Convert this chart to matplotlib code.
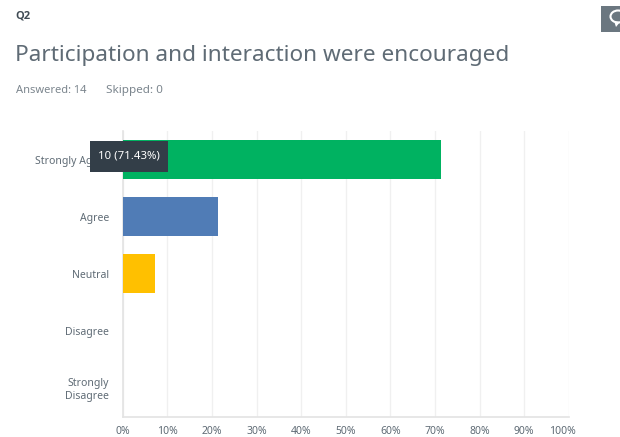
import matplotlib
matplotlib.use("Agg")
import matplotlib.pyplot as plt
from matplotlib.patches import Rectangle, Ellipse, Polygon
from matplotlib.transforms import ScaledTranslation

categories = ["Strongly Agree", "Agree", "Neutral", "Disagree", "Strongly\nDisagree"]
percents = [71.43, 21.43, 7.14, 0, 0]
bar_colors = ["#00b261", "#507cb6", "#ffc000", "#00b261", "#507cb6"]
x_ticks = [0, 10, 20, 30, 40, 50, 60, 70, 80, 90, 100]
x_tick_labels = [f"{t}%" for t in x_ticks]

question_id = "Q2"
title = "Participation and interaction were encouraged"
answered_text = "Answered: 14"
skipped_text = "Skipped: 0"
tooltip_text = "10 (71.43%)"

W, H = 620, 437

plt.rcParams["font.family"] = ["Noto Sans", "DejaVu Sans"]


def px_axes(fig, left, top, right, bottom):
    return fig.add_axes([left / W, 1 - bottom / H, (right - left) / W, (bottom - top) / H])


fig = plt.figure(figsize=(W / 100, H / 100), dpi=100)

# header text
fig.text(15 / W, 1 - 16.5 / H, question_id, fontsize=8, fontweight="bold", family="Open Sans", color="#3f4a54", va="center")
fig.text(15 / W, 1 - 55 / H, title, fontsize=16.25, color="#5f6b75", va="center")
fig.text(15.5 / W, 1 - 90.5 / H, answered_text, fontsize=8, color="#7c868e", va="center")
fig.text(106 / W, 1 - 90.5 / H, skipped_text, fontsize=8.4, color="#7c868e", va="center")

ax = px_axes(fig, 122.7, 131, 568.8, 416.5)
ax.set_xlim(0, 100)
ax.set_ylim(4.5, -0.5)

ax.barh(range(len(categories)), percents, height=0.69, color=bar_colors, zorder=3)

ax.set_xticks(x_ticks)
ax.set_xticklabels(x_tick_labels, fontsize=7.5, color="#5f6b75")
ax.set_yticks(range(len(categories)))
ax.set_yticklabels(categories, fontsize=7.5, color="#5f6b75", linespacing=1.15)
ax.tick_params(axis="both", length=0)
ax.tick_params(axis="x", pad=7)
ax.tick_params(axis="y", pad=10)
ax.grid(axis="x", color="#f0f0f0", linewidth=1, zorder=0)
ax.set_axisbelow(True)

# last tick label is pulled back so it stays inside the plot width
last = ax.get_xticklabels()[-1]
last.set_transform(last.get_transform() + ScaledTranslation(-6.5 / 100, 0, fig.dpi_scale_trans))

for side in ["top", "right"]:
    ax.spines[side].set_visible(False)
for side in ["left", "bottom"]:
    ax.spines[side].set_color("#e3e3e3")
    ax.spines[side].set_linewidth(1.2)

# hover tooltip and comment button sit on top in pixel coordinates
overlay = fig.add_axes([0, 0, 1, 1], facecolor="none")
overlay.set_xlim(0, W)
overlay.set_ylim(H, 0)
overlay.axis("off")
overlay.add_patch(Rectangle((90, 141), 77.7, 30.7, facecolor="#333e48", edgecolor="none"))
overlay.text(128.8, 156.5, tooltip_text, fontsize=8.2, color="#ffffff", ha="center", va="center")

overlay.add_patch(Rectangle((601, 6), 20, 25.5, facecolor="#6b7780", edgecolor="none"))
overlay.add_patch(Ellipse((618, 16.5), 15, 12, facecolor="none", edgecolor="#ffffff", linewidth=1.5))
overlay.add_patch(Polygon([(614, 21), (620, 22), (616, 27)], facecolor="#ffffff", edgecolor="none"))

fig.savefig("out.png", dpi=100)
